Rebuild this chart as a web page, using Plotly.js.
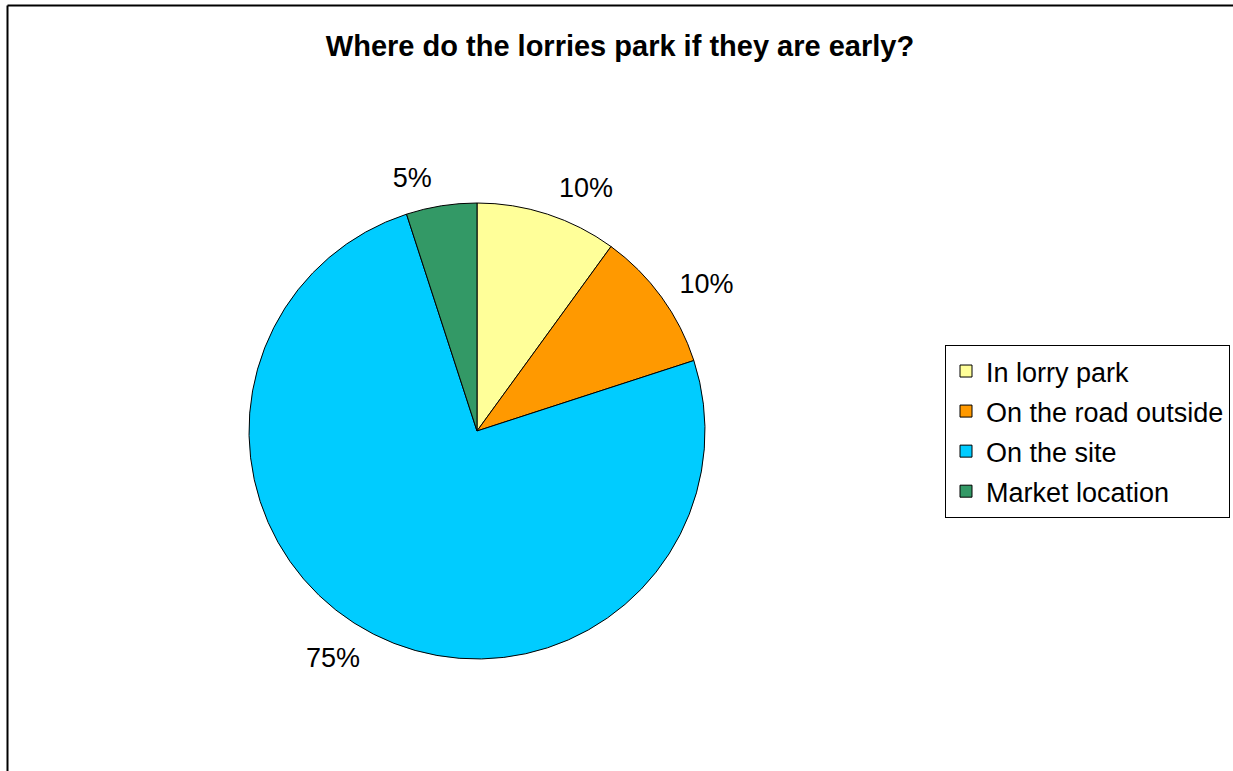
<!DOCTYPE html>
<html>
<head>
<meta charset="utf-8">
<script src="https://cdn.plot.ly/plotly-3.0.1.min.js"></script>
<style>html,body{margin:0;padding:0;background:#fff;} #chart{width:1233px;height:771px;}</style>
</head>
<body>
<div id="chart"></div>
<script>
const categories = ["In lorry park", "On the road outside", "On the site", "Market location"];
const shares = [10, 10, 75, 5];
const sliceColors = ["#FFFF99", "#FF9900", "#00CCFF", "#339966"];
const chartTitle = "Where do the lorries park if they are early?";

const W = 1233, H = 771;
const cx = 477, cy = 431, R = 228, RL = 241;
const FONT = "Liberation Sans, Arial, sans-serif";

function domainFor(r) {
  return {
    x: [(cx - r) / W, (cx + r) / W],
    y: [(H - cy - r) / H, (H - cy + r) / H]
  };
}

const legendLabels = categories.map(c => '<span style="font-size:27px">' + c + '</span>');

// visible pie (slices + legend)
const pieTrace = {
  type: "pie",
  labels: legendLabels,
  values: shares,
  sort: false,
  direction: "clockwise",
  rotation: 0,
  marker: { colors: sliceColors, line: { color: "#000000", width: 1 } },
  textinfo: "none",
  textposition: "none",
  automargin: false,
  domain: domainFor(R)
};

// transparent companion pie carrying the percentage labels a little further out
const labelTrace = {
  type: "pie",
  labels: legendLabels,
  values: shares,
  sort: false,
  direction: "clockwise",
  rotation: 0,
  showlegend: false,
  marker: { colors: categories.map(() => "rgba(0,0,0,0)"), line: { width: 0 } },
  textinfo: "percent",
  textposition: "outside",
  texttemplate: "%{percent:.0%}",
  outsidetextfont: { family: FONT, size: 27, color: "#000000" },
  automargin: false,
  domain: domainFor(RL)
};

const layout = {
  width: W,
  height: H,
  margin: { l: 0, r: 0, t: 0, b: 0 },
  paper_bgcolor: "#ffffff",
  font: { family: FONT, color: "#000000" },
  title: {
    text: "<b>" + chartTitle + "</b>",
    font: { family: FONT, size: 29, color: "#000000" },
    x: 620 / W, xanchor: "center",
    y: 1 - 46 / H, yanchor: "middle",
    xref: "paper", yref: "paper"
  },
  showlegend: true,
  legend: {
    x: 945 / W, xanchor: "left",
    y: 1 - 345 / H, yanchor: "top",
    bordercolor: "#000000", borderwidth: 1,
    bgcolor: "#ffffff",
    font: { family: FONT, size: 28.5, color: "#000000" },
    traceorder: "normal"
  },
  shapes: [
    { type: "line", xref: "paper", yref: "paper",
      x0: 7.5 / W, x1: 7.5 / W, y0: 0, y1: 1 - 5.5 / H,
      line: { color: "#000000", width: 2 }, layer: "below" },
    { type: "line", xref: "paper", yref: "paper",
      x0: 7.5 / W, x1: 1, y0: 1 - 5.5 / H, y1: 1 - 5.5 / H,
      line: { color: "#000000", width: 2 }, layer: "below" }
  ]
};

Plotly.newPlot("chart", [pieTrace, labelTrace], layout, { displayModeBar: false, staticPlot: true });
</script>
</body>
</html>
